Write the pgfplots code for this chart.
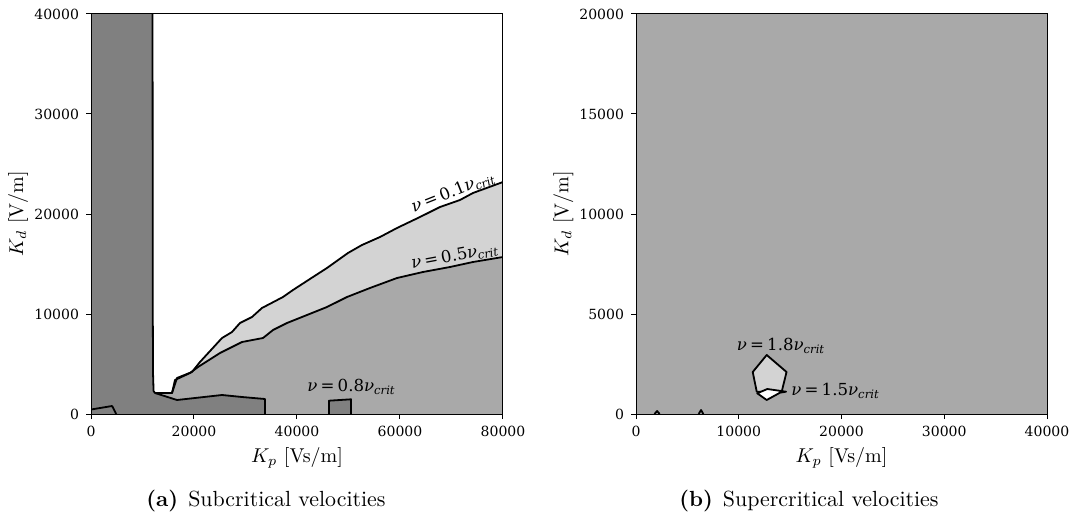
\documentclass[border=0pt]{standalone}
\usepackage{fontspec}
\usepackage{pgfplots}
\pgfplotsset{compat=1.18}

\newfontfamily\dvs{DejaVu Serif}
\definecolor{cdark}{HTML}{808080}
\definecolor{cmid}{HTML}{A9A9A9}
\definecolor{clight}{HTML}{D3D3D3}

% contour level label: nu = <factor> nu_crit
\newcommand{\nulab}[1]{{\dvs\fontsize{8.3}{10}\selectfont\textit{ν}\kern1.6pt=\kern1.6pt#1\textit{ν}\textsubscript{\textit{crit}}}}

\pgfplotsset{
  cmap/.style={
    scale only axis, height=200pt,
    axis on top,
    tick align=outside, xtick pos=bottom, ytick pos=left,
    major tick length=2.5pt,
    every tick/.style={black, line width=0.5pt},
    axis line style={line width=0.5pt},
    scaled ticks=false,
    /pgf/number format/1000 sep={},
    /pgf/number format/assume math mode=true,
    tick label style={font=\dvs\fontsize{7}{8}\selectfont},
    label style={font=\fontsize{10}{12}\selectfont},
    every axis y label/.style={at={(axis description cs:-0.177,0.5)}, rotate=90, anchor=center},
    every axis x label/.style={at={(axis description cs:0.5,-0.11)}, anchor=center},
  },
  cline/.style={draw=black, line width=0.9pt, line join=round},
}

\begin{document}
\begin{tikzpicture}
\useasboundingbox (0,0) rectangle (537.5pt,257.5pt);

% (a) subcritical velocities
\begin{axis}[cmap, width=206pt, at={(45.5pt,50.5pt)}, anchor=south west,
  xmin=0, xmax=80000, ymin=0, ymax=40000,
  xtick={0,20000,40000,60000,80000},
  ytick={0,10000,20000,30000,40000},
  xlabel={$K_p$ [Vs/m]}, ylabel={$K_d$ [V/m]},
  axis background/.style={fill=cmid}]

% region between the 0.1 and 0.5 contours
\addplot[fill=clight, draw=none] coordinates {
  (12430,2100) (15730,2100) (16310,3400) (19220,4100) (20780,4700)
  (25050,6100) (29320,7200) (33400,7600) (35340,8400) (38060,9100)
  (41940,9900) (45820,10700) (49710,11700) (54170,12600) (59420,13600)
  (64460,14200) (69710,14700) (74170,15200) (80000,15700)
  (80000,40000) (11000,40000) (11000,2100)} -- cycle;

% region above the 0.1 contour
\addplot[fill=white, draw=none] coordinates {
  (12430,2100) (15730,2100) (16700,3600) (19610,4200) (21160,5200)
  (25440,7600) (27380,8200) (28930,9100) (31260,9700) (33200,10600)
  (37280,11700) (39220,12400) (43110,13700) (45820,14600) (49900,16100)
  (52620,16900) (56120,17700) (59420,18600) (63880,19700) (67770,20700)
  (71650,21400) (74170,22100) (80000,23200)
  (80000,40000) (11000,40000) (11000,2100)} -- cycle;

% 0.8 region: strip at small Kp and band along the bottom
\addplot[fill=cdark, draw=none] coordinates {
  (0,0) (0,40000) (11950,40000) (12000,10000) (12050,4000) (12150,2300)
  (12430,2100) (16700,1400) (20190,1600) (25440,1900) (29320,1700)
  (33790,1500) (33790,0)} -- cycle;
\addplot[fill=cdark, cline] coordinates {
  (46200,0) (46200,1330) (50500,1470) (50500,0)};

% contour lines
\addplot[cline] coordinates {
  (11950,40000) (12000,10000) (12050,4000) (12150,2300)
  (12430,2100) (16700,1400) (20190,1600) (25440,1900) (29320,1700)
  (33790,1500) (33790,0)};
\addplot[cline] coordinates {
  (12430,2100) (15730,2100) (16700,3600) (19610,4200) (21160,5200)
  (25440,7600) (27380,8200) (28930,9100) (31260,9700) (33200,10600)
  (37280,11700) (39220,12400) (43110,13700) (45820,14600) (49900,16100)
  (52620,16900) (56120,17700) (59420,18600) (63880,19700) (67770,20700)
  (71650,21400) (74170,22100) (80000,23200)};
\addplot[cline] coordinates {
  (12430,2100) (15730,2100) (16310,3400) (19220,4100) (20780,4700)
  (25050,6100) (29320,7200) (33400,7600) (35340,8400) (38060,9100)
  (41940,9900) (45820,10700) (49710,11700) (54170,12600) (59420,13600)
  (64460,14200) (69710,14700) (74170,15200) (80000,15700)};
\addplot[cline] coordinates {
  (0,450) (4100,800) (4900,0)};

\node[anchor=south, rotate=21.6, inner sep=0.6pt] at (axis cs:71000,21300) {\nulab{0.1}};
\node[anchor=south, rotate=10.6, inner sep=0.6pt] at (axis cs:71000,14850) {\nulab{0.5}};
\node[anchor=base, inner sep=0pt] at (axis cs:50580,2250) {\nulab{0.8}};
\end{axis}

% (b) supercritical velocities
\begin{axis}[cmap, width=205.5pt, at={(318pt,50.5pt)}, anchor=south west,
  xmin=0, xmax=40000, ymin=0, ymax=20000,
  xtick={0,10000,20000,30000,40000},
  ytick={0,5000,10000,15000,20000},
  xlabel={$K_p$ [Vs/m]}, ylabel={$K_d$ [V/m]},
  axis background/.style={fill=cmid}]

% 1.8 contour
\addplot[fill=clight, cline] coordinates {
  (12720,2950) (14650,2100) (14180,1115) (11750,1115) (11360,2100)} -- cycle;
% 1.5 contour
\addplot[fill=white, cline] coordinates {
  (11800,1035) (12780,1250) (14600,1115) (14010,1065) (12720,700)} -- cycle;
% small spots near the Kp axis
\addplot[cline] coordinates {(1800,0) (2050,150) (2300,0)};
\addplot[cline] coordinates {(6100,0) (6330,200) (6550,0)};

\node[anchor=base, inner sep=0pt] at (axis cs:14110,3200) {\nulab{1.8}};
\node[anchor=base west, inner sep=0pt] at (axis cs:15080,950) {\nulab{1.5}};
\end{axis}

% sub-captions
\node[anchor=center, font=\fontsize{10.95}{13}\selectfont] at (133pt,7pt) {\textbf{(a)}\hspace{5pt}Subcritical velocities};
\node[anchor=center, font=\fontsize{10.95}{13}\selectfont] at (404.5pt,7pt) {\textbf{(b)}\hspace{5pt}Supercritical velocities};
\end{tikzpicture}
\end{document}
